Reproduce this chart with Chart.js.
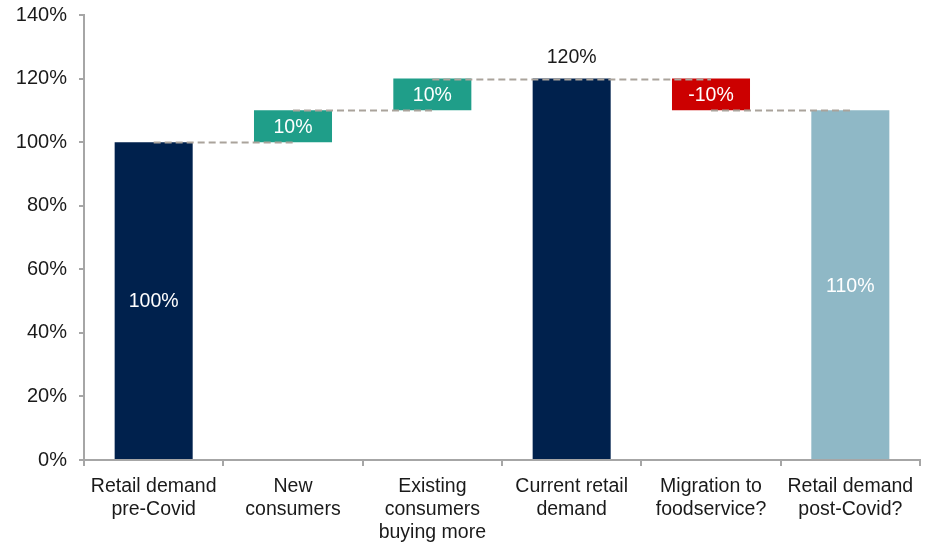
<!DOCTYPE html>
<html>
<head>
<meta charset="utf-8">
<script src="https://cdn.jsdelivr.net/npm/chart.js@4"></script>
<style>
  html, body { margin: 0; padding: 0; background: #fff; }
  #wrap { width: 928px; height: 543px; }
</style>
</head>
<body>
<div id="wrap"><canvas id="chart" width="928" height="543"></canvas></div>
<script>
// ==== Data ====
const categories = [
  ['Retail demand', 'pre-Covid'],
  ['New', 'consumers'],
  ['Existing', 'consumers', 'buying more'],
  ['Current retail', 'demand'],
  ['Migration to', 'foodservice?'],
  ['Retail demand', 'post-Covid?']
];
// step value for each column; totals start from zero, the rest float on the running level
const stepValues = [100, 10, 10, 120, -10, 110];
const isTotal = [true, false, false, true, false, true];
const barColors = ['#00214d', '#1f9e89', '#1f9e89', '#00214d', '#cc0000', '#8fb8c6'];
const yTicks = [0, 20, 40, 60, 80, 100, 120, 140];

// floating bar ranges built from the steps
const ranges = [];
let level = 0;
stepValues.forEach((v, i) => {
  if (isTotal[i]) {
    ranges.push([0, v]);
    level = v;
  } else {
    ranges.push([level, level + v]);
    level += v;
  }
});

const fontFamily = '"Liberation Sans", Arial, sans-serif';

// dashed connectors between bar tops, then value labels on top of everything
const waterfallPlugin = {
  id: 'waterfall',
  afterDatasetsDraw(chart) {
    const ctx = chart.ctx;
    const meta = chart.getDatasetMeta(0);
    const y = chart.scales.y;

    // connector runs from the centre of a bar to the centre of the next bar that starts at that level
    ctx.save();
    ctx.strokeStyle = '#aaa39b';
    ctx.lineWidth = 2;
    ctx.setLineDash([7, 4]);
    for (let i = 0; i < ranges.length - 1; i++) {
      const endLevel = ranges[i][1];
      let j = i + 1;
      // pass over totals whose top sits on the same level
      while (j < ranges.length - 1 && isTotal[j] && ranges[j][1] === endLevel) j++;
      const yy = Math.round(y.getPixelForValue(endLevel)) + 0.5;
      ctx.beginPath();
      ctx.moveTo(meta.data[i].x, yy);
      ctx.lineTo(meta.data[j].x, yy);
      ctx.stroke();
      i = j - 1;
    }
    ctx.restore();

    ctx.save();
    ctx.font = '19.5px ' + fontFamily;
    ctx.textAlign = 'center';
    ctx.textBaseline = 'middle';
    stepValues.forEach((v, i) => {
      const bar = meta.data[i];
      const lo = Math.min(ranges[i][0], ranges[i][1]);
      const hi = Math.max(ranges[i][0], ranges[i][1]);
      const text = v + '%';
      if (i === 3) {
        ctx.fillStyle = '#1a1a1a';
        ctx.fillText(text, bar.x, y.getPixelForValue(hi) - 21);
      } else {
        ctx.fillStyle = '#ffffff';
        ctx.fillText(text, bar.x, (y.getPixelForValue(lo) + y.getPixelForValue(hi)) / 2 + 1);
      }
    });
    ctx.restore();
  }
};

new Chart(document.getElementById('chart'), {
  type: 'bar',
  data: {
    labels: categories,
    datasets: [{
      data: ranges,
      backgroundColor: barColors,
      borderWidth: 0,
      barPercentage: 0.56,
      categoryPercentage: 1
    }]
  },
  options: {
    responsive: false,
    animation: false,
    devicePixelRatio: 1,
    layout: { padding: { left: 0, top: 15, right: 8, bottom: 0 } },
    plugins: {
      legend: { display: false },
      tooltip: { enabled: false }
    },
    scales: {
      x: {
        offset: true,
        grid: {
          offset: true,
          drawOnChartArea: false,
          drawTicks: true,
          tickLength: 6,
          color: '#a6a6a6',
          lineWidth: 2
        },
        border: { display: true, color: '#a6a6a6', width: 2 },
        ticks: {
          color: '#1a1a1a',
          font: { family: fontFamily, size: 19.5, lineHeight: 1.18 },
          padding: 9,
          maxRotation: 0,
          autoSkip: false
        },
        afterFit(scale) {
          scale.height = 83;
          scale.paddingLeft = 0;
          scale.paddingRight = 0;
        }
      },
      y: {
        min: 0,
        max: 140,
        afterBuildTicks(scale) { scale.ticks = yTicks.map(v => ({ value: v })); },
        grid: {
          drawOnChartArea: false,
          drawTicks: true,
          tickLength: 5,
          color: '#a6a6a6',
          lineWidth: 2
        },
        border: { display: true, color: '#a6a6a6', width: 2 },
        ticks: {
          color: '#1a1a1a',
          font: { family: fontFamily, size: 20 },
          padding: 12,
          callback: v => v + '%'
        },
        afterFit(scale) {
          scale.width = 84;
          scale.paddingTop = 0;
          scale.paddingBottom = 0;
        }
      }
    }
  },
  plugins: [waterfallPlugin]
});
</script>
</body>
</html>
